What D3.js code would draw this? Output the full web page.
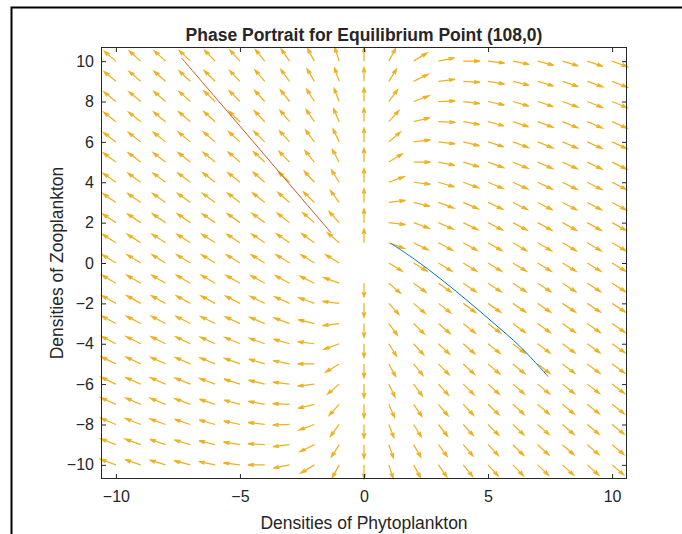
<!DOCTYPE html>
<html>
<head>
<meta charset="utf-8">
<script src="https://cdn.jsdelivr.net/npm/d3@7"></script>
<style>
body{margin:0;background:#fff;}
svg{display:block;}
text{font-family:"Liberation Sans",Arial,Helvetica,sans-serif;fill:#262626;}
</style>
</head>
<body>
<svg id="chart"></svg>
<script>
// grid of the quiver (column x values, row y values, top row first)
var xGrid=[-10,-9,-8,-7,-6,-5,-4,-3,-2,-1,0,1,2,3,4,5,6,7,8,9,10];
var yGrid=[10,9,8,7,6,5,4,3,2,1,0,-1,-2,-3,-4,-5,-6,-7,-8,-9,-10];
// horizontal rate at each column (same in every row)
var uRow=[-10,-9,-8,-7,-6,-5,-4,-3,-2,-1,0,1,2,3,4,5,6,7,8,9,10];
// vertical rate, one row per yGrid value
var vField=[
[10.5,9.75,9,8.25,7.5,6.75,6,5.25,4.5,3.75,3,2.25,1.5,0.75,0,-0.75,-1.5,-2.25,-3,-3.75,-4.5],
[10.2,9.45,8.7,7.95,7.2,6.45,5.7,4.95,4.2,3.45,2.7,1.95,1.2,0.45,-0.3,-1.05,-1.8,-2.55,-3.3,-4.05,-4.8],
[9.9,9.15,8.4,7.65,6.9,6.15,5.4,4.65,3.9,3.15,2.4,1.65,0.9,0.15,-0.6,-1.35,-2.1,-2.85,-3.6,-4.35,-5.1],
[9.6,8.85,8.1,7.35,6.6,5.85,5.1,4.35,3.6,2.85,2.1,1.35,0.6,-0.15,-0.9,-1.65,-2.4,-3.15,-3.9,-4.65,-5.4],
[9.3,8.55,7.8,7.05,6.3,5.55,4.8,4.05,3.3,2.55,1.8,1.05,0.3,-0.45,-1.2,-1.95,-2.7,-3.45,-4.2,-4.95,-5.7],
[9,8.25,7.5,6.75,6,5.25,4.5,3.75,3,2.25,1.5,0.75,0,-0.75,-1.5,-2.25,-3,-3.75,-4.5,-5.25,-6],
[8.7,7.95,7.2,6.45,5.7,4.95,4.2,3.45,2.7,1.95,1.2,0.45,-0.3,-1.05,-1.8,-2.55,-3.3,-4.05,-4.8,-5.55,-6.3],
[8.4,7.65,6.9,6.15,5.4,4.65,3.9,3.15,2.4,1.65,0.9,0.15,-0.6,-1.35,-2.1,-2.85,-3.6,-4.35,-5.1,-5.85,-6.6],
[8.1,7.35,6.6,5.85,5.1,4.35,3.6,2.85,2.1,1.35,0.6,-0.15,-0.9,-1.65,-2.4,-3.15,-3.9,-4.65,-5.4,-6.15,-6.9],
[7.8,7.05,6.3,5.55,4.8,4.05,3.3,2.55,1.8,1.05,0.3,-0.45,-1.2,-1.95,-2.7,-3.45,-4.2,-4.95,-5.7,-6.45,-7.2],
[7.5,6.75,6,5.25,4.5,3.75,3,2.25,1.5,0.75,0,-0.75,-1.5,-2.25,-3,-3.75,-4.5,-5.25,-6,-6.75,-7.5],
[7.2,6.45,5.7,4.95,4.2,3.45,2.7,1.95,1.2,0.45,-0.3,-1.05,-1.8,-2.55,-3.3,-4.05,-4.8,-5.55,-6.3,-7.05,-7.8],
[6.9,6.15,5.4,4.65,3.9,3.15,2.4,1.65,0.9,0.15,-0.6,-1.35,-2.1,-2.85,-3.6,-4.35,-5.1,-5.85,-6.6,-7.35,-8.1],
[6.6,5.85,5.1,4.35,3.6,2.85,2.1,1.35,0.6,-0.15,-0.9,-1.65,-2.4,-3.15,-3.9,-4.65,-5.4,-6.15,-6.9,-7.65,-8.4],
[6.3,5.55,4.8,4.05,3.3,2.55,1.8,1.05,0.3,-0.45,-1.2,-1.95,-2.7,-3.45,-4.2,-4.95,-5.7,-6.45,-7.2,-7.95,-8.7],
[6,5.25,4.5,3.75,3,2.25,1.5,0.75,0,-0.75,-1.5,-2.25,-3,-3.75,-4.5,-5.25,-6,-6.75,-7.5,-8.25,-9],
[5.7,4.95,4.2,3.45,2.7,1.95,1.2,0.45,-0.3,-1.05,-1.8,-2.55,-3.3,-4.05,-4.8,-5.55,-6.3,-7.05,-7.8,-8.55,-9.3],
[5.4,4.65,3.9,3.15,2.4,1.65,0.9,0.15,-0.6,-1.35,-2.1,-2.85,-3.6,-4.35,-5.1,-5.85,-6.6,-7.35,-8.1,-8.85,-9.6],
[5.1,4.35,3.6,2.85,2.1,1.35,0.6,-0.15,-0.9,-1.65,-2.4,-3.15,-3.9,-4.65,-5.4,-6.15,-6.9,-7.65,-8.4,-9.15,-9.9],
[4.8,4.05,3.3,2.55,1.8,1.05,0.3,-0.45,-1.2,-1.95,-2.7,-3.45,-4.2,-4.95,-5.7,-6.45,-7.2,-7.95,-8.7,-9.45,-10.2],
[4.5,3.75,3,2.25,1.5,0.75,0,-0.75,-1.5,-2.25,-3,-3.75,-4.5,-5.25,-6,-6.75,-7.5,-8.25,-9,-9.75,-10.5]
];
// trajectories
var redPath=[[-7.35,10.15],[-5.5,7.5],[-3.5,4.62],[-1.33,1.5]];
var bluePath=[[1.09,0.97],[2.1,0.13],[3.1,-0.8],[4.15,-1.85],[5.2,-2.95],[6.3,-4.15],[7.42,-5.62]];
var xTicks=[-10,-5,0,5,10];
var yTicks=[-10,-8,-6,-4,-2,0,2,4,6,8,10];

var W=682,H=534;
var margin={left:101,top:47,right:55,bottom:55};
var w=W-margin.left-margin.right;
var h=H-margin.top-margin.bottom;

var svg=d3.select("#chart").attr("width",W).attr("height",H);

// outer frame (only top and left edges show)
svg.append("path")
   .attr("d","M11.5,"+H+"V7.5H"+W)
   .attr("fill","none")
   .attr("stroke","#000")
   .attr("stroke-width",2);

var xScale=d3.scaleLinear().domain([-10.6,10.6]).range([margin.left,margin.left+w]);
var yScale=d3.scaleLinear().domain([-10.7,10.7]).range([margin.top+h,margin.top]);

var g=svg.append("g");

// quiver arrows, normalised length like the matlab plot
var len=0.68,alpha=0.36,beta=0.3;
var arrows=[];
yGrid.forEach(function(yv,i){
  xGrid.forEach(function(xv,j){
    var u=uRow[j],v=vField[i][j];
    var m=Math.sqrt(u*u+v*v);
    if(m===0)return;
    arrows.push({x:xv,y:yv,u:u/m*len,v:v/m*len});
  });
});
g.selectAll("path.arrow")
 .data(arrows)
 .enter()
 .append("path")
 .classed("arrow",true)
 .attr("d",function(d){
   var tx=d.x+d.u,ty=d.y+d.v;
   var p="M"+xScale(d.x)+","+yScale(d.y)+"L"+xScale(tx)+","+yScale(ty);
   var ax=tx-alpha*(d.u+beta*d.v),ay=ty-alpha*(d.v-beta*d.u);
   var bx=tx-alpha*(d.u-beta*d.v),by=ty-alpha*(d.v+beta*d.u);
   p+="M"+xScale(ax)+","+yScale(ay)+"L"+xScale(tx)+","+yScale(ty)+"L"+xScale(bx)+","+yScale(by);
   return p;
 })
 .attr("fill","none")
 .attr("stroke","#EDB120")
 .attr("stroke-width",1.25);

var line=d3.line()
  .x(function(d){return xScale(d[0]);})
  .y(function(d){return yScale(d[1]);})
  .curve(d3.curveCatmullRom);

g.append("path").datum(redPath).attr("d",line)
 .attr("fill","none").attr("stroke","#D95319").attr("stroke-width",1);
g.append("path").datum(bluePath).attr("d",line)
 .attr("fill","none").attr("stroke","#0072BD").attr("stroke-width",1);

// axes with inward ticks
var xAxis=d3.axisBottom(xScale).tickValues(xTicks).tickSizeInner(-5).tickSizeOuter(0).tickPadding(12);
var yAxis=d3.axisLeft(yScale).tickValues(yTicks).tickSizeInner(-5).tickSizeOuter(0).tickPadding(7);
var xTop=d3.axisTop(xScale).tickValues(xTicks).tickSizeInner(-5).tickSizeOuter(0).tickFormat("");
var yRight=d3.axisRight(yScale).tickValues(yTicks).tickSizeInner(-5).tickSizeOuter(0).tickFormat("");

function styleAxis(sel){
  sel.attr("font-size",null).attr("font-family",null);
  sel.select(".domain").remove();
  sel.selectAll("line").attr("stroke","#262626");
  sel.selectAll("text").style("font-size","16px").attr("fill","#262626")
     .style("font-family","'Liberation Sans',Arial,sans-serif");
}
svg.append("g").attr("transform","translate(0,"+(margin.top+h)+")").call(xAxis).call(styleAxis);
svg.append("g").attr("transform","translate("+margin.left+",0)").call(yAxis).call(styleAxis);
svg.append("g").attr("transform","translate(0,"+margin.top+")").call(xTop).call(styleAxis);
svg.append("g").attr("transform","translate("+(margin.left+w)+",0)").call(yRight).call(styleAxis);

svg.append("rect")
   .attr("x",margin.left+0.5).attr("y",margin.top+0.5)
   .attr("width",w-1).attr("height",h-1)
   .attr("fill","none").attr("stroke","#262626").attr("stroke-width",1);

svg.append("text")
   .attr("x",margin.left+w/2).attr("y",41)
   .attr("text-anchor","middle")
   .style("font-size","17.5px").style("font-weight","bold").attr("fill","#000")
   .text("Phase Portrait for Equilibrium Point (108,0)");

svg.append("text")
   .attr("x",margin.left+w/2).attr("y",529)
   .attr("text-anchor","middle")
   .style("font-size","17.5px")
   .text("Densities of Phytoplankton");

svg.append("text")
   .attr("transform","translate(63,"+(margin.top+h/2)+") rotate(-90)")
   .attr("text-anchor","middle")
   .style("font-size","17.5px")
   .text("Densities of Zooplankton");
</script>
</body>
</html>
